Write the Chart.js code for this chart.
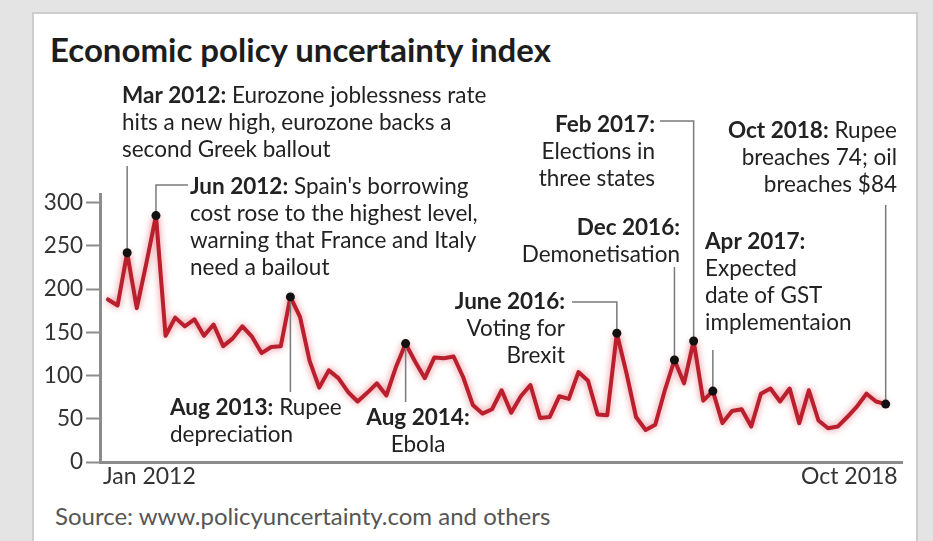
<!DOCTYPE html>
<html>
<head>
<meta charset="utf-8">
<script src="https://cdn.jsdelivr.net/npm/chart.js@4/dist/chart.umd.min.js"></script>
<style>
  html, body { margin: 0; padding: 0; }
  body { width: 933px; height: 541px; background: #e4e4e4; position: relative; overflow: hidden; font-family: Lato, sans-serif; }
  #panel { position: absolute; left: 32px; top: 12px; width: 882px; height: 560px; background: #fff; border: 2px solid #cdcdcd; }
  #title { position: absolute; left: 50px; top: 29px; font: 700 33px Lato, sans-serif; color: #1d1d1d; white-space: nowrap; }
  #source { position: absolute; left: 55px; top: 501px; font: 400 24px Lato, sans-serif; color: #555; white-space: nowrap; }
  #chart { position: absolute; left: 0; top: 0; }
</style>
</head>
<body>
<div id="panel"></div>
<div id="title">Economic policy uncertainty index</div>
<div id="source">Source: www.policyuncertainty.com and others</div>
<canvas id="chart" width="933" height="541"></canvas>
<script>
// Datos: índice mensual, de Jan 2012 a Oct 2018
const months = [];
for (let y = 2012; y <= 2018; y++) {
    ["Jan","Feb","Mar","Apr","May","Jun","Jul","Aug","Sep","Oct","Nov","Dec"].forEach(m => months.push(m + " " + y));
}
months.splice(82); // hasta Oct 2018

const uncertainty = [
    188, 181, 242, 178, 230, 285, 146, 167, 157, 165, 146, 159,
    134, 143, 157, 145, 126, 133, 134, 191, 168, 117, 86, 106,
    97, 81, 70, 80, 91, 77, 110, 137, 116, 97, 121, 120,
    122, 98, 66, 56, 61, 83, 57, 76, 89, 51, 52, 76,
    73, 104, 94, 55, 54, 149, 103, 52, 37, 43, 83, 118,
    91, 140, 71, 82, 45, 59, 61, 41, 79, 85, 70, 85,
    45, 83, 48, 39, 41, 52, 64, 79, 70, 67
];

const yTicks = [0, 50, 100, 150, 200, 250, 300];
const xTickLabels = ["Jan 2012", "Oct 2018"];

// Eventos marcados (mes y texto)
const eventMonths = ["Mar 2012", "Jun 2012", "Aug 2013", "Aug 2014", "Jun 2016", "Dec 2016", "Feb 2017", "Apr 2017", "Oct 2018"];
const eventTexts = [
    [["Mar 2012:", " Eurozone joblessness rate"], ["", "hits a new high, eurozone backs a"], ["", "second Greek ballout"]],
    [["Jun 2012:", " Spain's borrowing"], ["", "cost rose to the highest level,"], ["", "warning that France and Italy"], ["", "need a bailout"]],
    [["Aug 2013:", " Rupee"], ["", "depreciation"]],
    [["Aug 2014:", ""], ["", "Ebola"]],
    [["June 2016:", ""], ["", "Voting for"], ["", "Brexit"]],
    [["Dec 2016:", ""], ["", "Demonetisation"]],
    [["Feb 2017:", ""], ["", "Elections in"], ["", "three states"]],
    [["Apr 2017:", ""], ["", "Expected"], ["", "date of GST"], ["", "implementaion"]],
    [["Oct 2018:", " Rupee"], ["", "breaches 74; oil"], ["", "breaches $84"]]
];

// Posición de los textos y de las líneas guía (solo maquetación)
const eventLayout = [
    { x: 122, y: 96, align: "left", lineTo: 166 },
    { x: 190, y: 187, align: "left", lineTo: 185, elbowX: 188 },
    { x: 170, y: 408, align: "left", lineTo: 392 },
    { x: 418, y: 418, align: "center", lineTo: 402 },
    { x: 565, y: 302, align: "right", lineTo: 302, elbowX: 572 },
    { x: 680, y: 228, align: "right", lineTo: 267 },
    { x: 655, y: 125, align: "right", lineTo: 121, elbowX: 660 },
    { x: 705, y: 242, align: "left", lineTo: 350 },
    { x: 897, y: 131, align: "right", lineTo: 205 }
];

const eventIdx = eventMonths.map(m => months.indexOf(m));
const LINE_H = 27;
const FONT_R = "400 22.5px Lato, sans-serif";
const FONT_B = "700 22.5px Lato, sans-serif";

const glowPlugin = {
    id: "glow",
    beforeDatasetDraw(chart) {
        const ctx = chart.ctx;
        ctx.save();
        ctx.shadowColor = "rgba(215, 40, 55, 0.6)";
        ctx.shadowBlur = 7;
    },
    afterDatasetDraw(chart) {
        chart.ctx.restore();
    }
};

const notesPlugin = {
    id: "notes",
    afterDatasetsDraw(chart) {
        const ctx = chart.ctx;
        const meta = chart.getDatasetMeta(0);
        ctx.save();

        // líneas guía
        ctx.strokeStyle = "#7a7a7a";
        ctx.lineWidth = 1.5;
        eventIdx.forEach((idx, k) => {
            const p = meta.data[idx];
            const lay = eventLayout[k];
            ctx.beginPath();
            ctx.moveTo(p.x, p.y);
            ctx.lineTo(p.x, lay.lineTo);
            if (lay.elbowX !== undefined) ctx.lineTo(lay.elbowX, lay.lineTo);
            ctx.stroke();
        });

        // puntos negros
        ctx.fillStyle = "#111";
        eventIdx.forEach(idx => {
            const p = meta.data[idx];
            ctx.beginPath();
            ctx.arc(p.x, p.y, 4.5, 0, Math.PI * 2);
            ctx.fill();
        });

        // textos
        ctx.fillStyle = "#222";
        ctx.textBaseline = "middle";
        eventTexts.forEach((lines, k) => {
            const lay = eventLayout[k];
            lines.forEach((ln, j) => {
                const y = lay.y + j * LINE_H;
                ctx.font = FONT_B;
                const wb = ctx.measureText(ln[0]).width;
                ctx.font = FONT_R;
                const wr = ctx.measureText(ln[1]).width;
                const total = wb + wr;
                let x0 = lay.x;
                if (lay.align === "right") x0 = lay.x - total;
                if (lay.align === "center") x0 = lay.x - total / 2;
                ctx.textAlign = "left";
                ctx.font = FONT_B;
                ctx.fillText(ln[0], x0, y);
                ctx.font = FONT_R;
                ctx.fillText(ln[1], x0 + wb, y);
            });
        });

        // etiquetas del eje x
        const xs = chart.scales.x;
        ctx.font = "400 23px Lato, sans-serif";
        ctx.fillStyle = "#333";
        ctx.textAlign = "left";
        ctx.fillText(xTickLabels[0], xs.getPixelForValue(0) - 5, 477);
        ctx.textAlign = "right";
        ctx.fillText(xTickLabels[1], xs.getPixelForValue(uncertainty.length - 1) + 12, 477);
        ctx.restore();
    }
};

new Chart(document.getElementById("chart"), {
    type: "line",
    data: {
        datasets: [{
            label: "Economic policy uncertainty index",
            data: uncertainty.map((v, i) => ({ x: i, y: v })),
            borderColor: "#b91f2d",
            borderWidth: 4,
            borderJoinStyle: "round",
            borderCapStyle: "round",
            pointRadius: 0,
            tension: 0,
            fill: false
        }]
    },
    options: {
        responsive: false,
        animation: false,
        devicePixelRatio: 1,
        layout: { padding: { top: 194, right: 31, bottom: 0, left: 0 } },
        plugins: { legend: { display: false }, tooltip: { enabled: false } },
        scales: {
            x: {
                type: "linear",
                min: -0.83,
                max: 82.7,
                ticks: { display: false },
                grid: { display: false },
                border: { display: true, color: "#8c8c8c", width: 3 },
                afterFit(scale) { scale.height = 79; }
            },
            y: {
                min: 0,
                max: 310,
                afterBuildTicks(scale) { scale.ticks = yTicks.map(v => ({ value: v })); },
                ticks: { color: "#333", font: { family: "Lato", size: 22.5 }, padding: 3 },
                grid: { display: true, drawOnChartArea: false, drawTicks: true, tickLength: 14, tickColor: "#8c8c8c", tickWidth: 2 },
                border: { display: true, color: "#8c8c8c", width: 3 },
                afterFit(scale) { scale.width = 100; }
            }
        }
    },
    plugins: [glowPlugin, notesPlugin]
});
</script>
</body>
</html>
